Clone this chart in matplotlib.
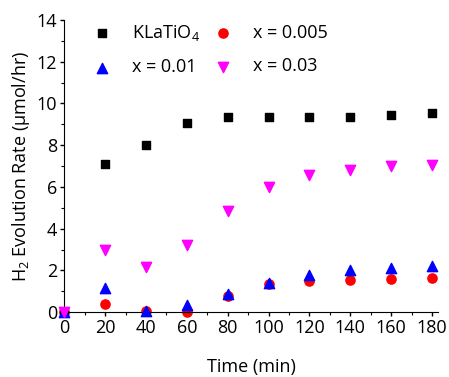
import matplotlib
matplotlib.use('Agg')
import matplotlib.pyplot as plt
from matplotlib.ticker import MultipleLocator

plt.rcParams['font.family'] = ['Open Sans', 'DejaVu Sans']
plt.rcParams['mathtext.fontset'] = 'custom'
plt.rcParams['mathtext.rm'] = 'Open Sans'
plt.rcParams['mathtext.it'] = 'Open Sans'
plt.rcParams['mathtext.default'] = 'regular'

# data
time_min = [0, 20, 40, 60, 80, 100, 120, 140, 160, 180]
klatio4 = [0.0, 7.12, 8.03, 9.07, 9.36, 9.37, 9.33, 9.37, 9.44, 9.55]
x_0005 = [0.0, 0.37, 0.06, 0.02, 0.79, 1.36, 1.50, 1.54, 1.57, 1.65]
x_001 = [0.0, 1.17, 0.05, 0.36, 0.88, 1.42, 1.78, 2.02, 2.12, 2.22]
x_003 = [0.0, 3.0, 2.18, 3.22, 4.87, 5.99, 6.57, 6.79, 6.99, 7.07]

fig = plt.figure(figsize=(4.49, 3.77), dpi=100)
ax = fig.add_axes([0.143, 0.172, 0.833, 0.775])

ax.scatter(time_min, klatio4, marker='s', s=38, color='black', label='KLaTiO$_4$', zorder=3, clip_on=False)
ax.scatter(time_min, x_001, marker='^', s=55, color='blue', label='x = 0.01', zorder=3, clip_on=False)
ax.scatter(time_min, x_0005, marker='o', s=44, color='red', label='x = 0.005', zorder=2, clip_on=False)
ax.scatter(time_min, x_003, marker='v', s=55, color='magenta', label='x = 0.03', zorder=4, clip_on=False)

ax.set_xlim(0, 183)
ax.set_ylim(0, 14)
ax.xaxis.set_major_locator(MultipleLocator(20))
ax.xaxis.set_minor_locator(MultipleLocator(10))
ax.yaxis.set_major_locator(MultipleLocator(2))
ax.yaxis.set_minor_locator(MultipleLocator(1))

for side in ['top', 'right']:
    ax.spines[side].set_visible(False)
ax.tick_params(which='major', direction='out', length=3, width=1, labelsize=13, pad=2)
ax.tick_params(which='minor', direction='out', length=2, width=0.8)

ax.set_xlabel('Time (min)', fontsize=13, labelpad=15)
ax.set_ylabel('H$_2$ Evolution Rate (\u00b5mol/hr)', fontsize=13, labelpad=3)

ax.legend(ncol=2, frameon=False, loc='upper left', fontsize=13,
          bbox_to_anchor=(0.033, 1.045), handlelength=1.0, handletextpad=1.15,
          columnspacing=0.8, labelspacing=0.85)

fig.savefig('out.png', dpi=100)
